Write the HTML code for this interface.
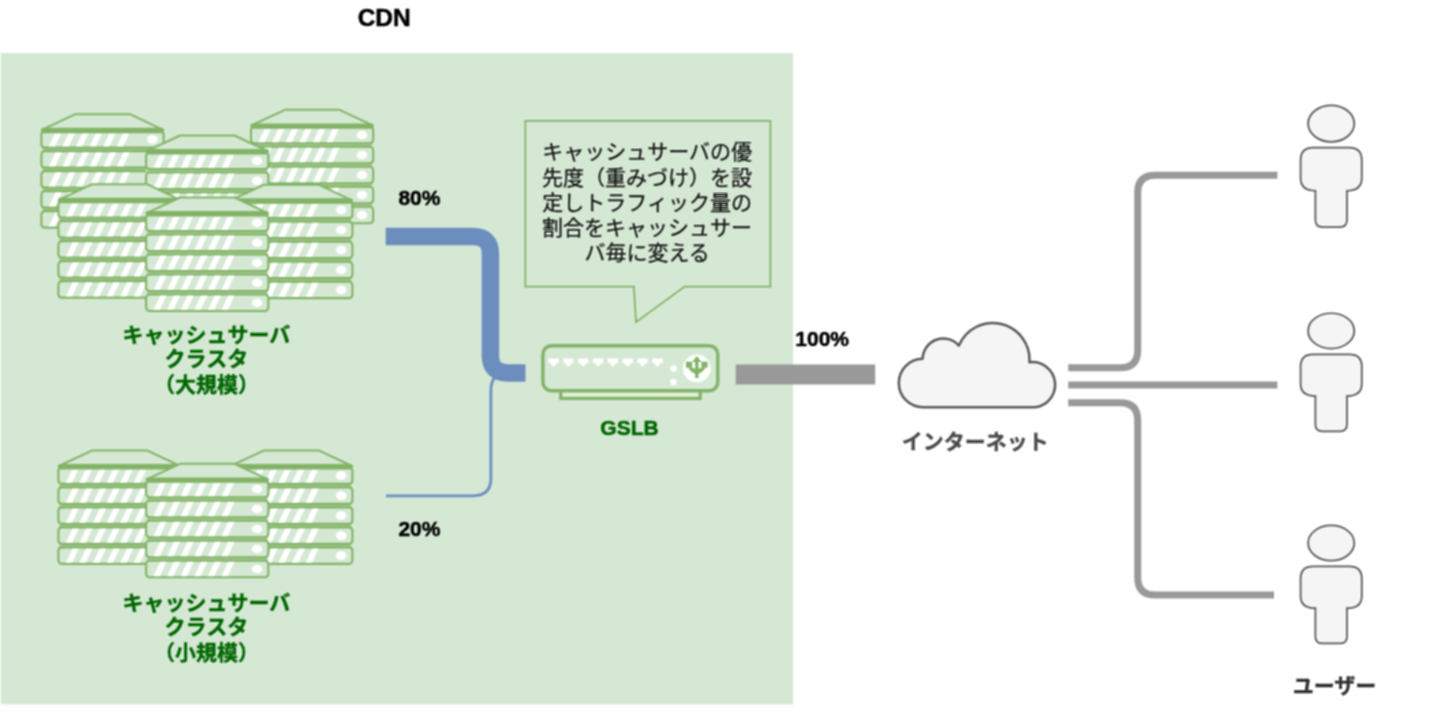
<!DOCTYPE html>
<html lang="ja">
<head>
<meta charset="utf-8">
<title>CDN GSLB</title>
<style>
html,body{margin:0;padding:0;background:#fff;overflow:hidden}
svg{display:block;width:1440px;height:726px;}
text{font-family:"Liberation Sans","Noto Sans CJK JP",sans-serif}
</style>
</head>
<body>
<svg width="1440" height="726" viewBox="0 0 1440 726">
<defs><filter id="soft" x="0" y="0" width="1440" height="726" filterUnits="userSpaceOnUse" color-interpolation-filters="sRGB"><feConvolveMatrix order="3" kernelMatrix="9 12 9 12 16 12 9 12 9" divisor="100" edgeMode="duplicate"/></filter></defs>
<g filter="url(#soft)">
<rect width="1440" height="726" fill="#fff"/>
<rect x="0.8" y="53" width="792.3" height="651.4" fill="#d5e8d4"/>
<g transform="translate(41.40,114.20)">
<path d="M34 0H88.5L122.2 15.8V112.5Q122.2 114.5 120.2 114.5H2Q0 114.5 0 112.5V15.8Z" fill="#d5e8d4"/>
<rect x="1.2" y="16" width="119.8" height="96" fill="#a3ca91"/>
<path d="M34 0H88.5L121.7 15.6H0.5Z" fill="#d5e8d4" stroke="#82b366" stroke-width="2" stroke-linejoin="round"/>
<rect x="0" y="16.95" width="122.2" height="16.5" rx="3.4" fill="#d5e8d4" stroke="#82b366" stroke-width="2.1"/>
<path d="M7.40 32.40L13.70 19.00H20.00L13.70 32.40ZM21.00 32.40L27.30 19.00H33.60L27.30 32.40ZM34.60 32.40L40.90 19.00H47.20L40.90 32.40ZM48.20 32.40L54.50 19.00H60.80L54.50 32.40ZM61.80 32.40L68.10 19.00H74.40L68.10 32.40ZM75.40 32.40L81.70 19.00H88.00L81.70 32.40Z" fill="#fff"/>
<ellipse cx="111" cy="25.20" rx="5.2" ry="4.3" fill="#fff"/>
<rect x="0" y="36.95" width="122.2" height="16.5" rx="3.4" fill="#d5e8d4" stroke="#82b366" stroke-width="2.1"/>
<path d="M7.40 52.40L14.17 38.00H20.47L13.70 52.40ZM21.00 52.40L27.77 38.00H34.07L27.30 52.40ZM34.60 52.40L41.37 38.00H47.67L40.90 52.40ZM48.20 52.40L54.97 38.00H61.27L54.50 52.40ZM61.80 52.40L68.57 38.00H74.87L68.10 52.40ZM75.40 52.40L82.17 38.00H88.47L81.70 52.40Z" fill="#fff"/>
<ellipse cx="111" cy="45.20" rx="5.2" ry="4.3" fill="#fff"/>
<rect x="0" y="56.95" width="122.2" height="16.5" rx="3.4" fill="#d5e8d4" stroke="#82b366" stroke-width="2.1"/>
<path d="M7.40 72.40L14.17 58.00H20.47L13.70 72.40ZM21.00 72.40L27.77 58.00H34.07L27.30 72.40ZM34.60 72.40L41.37 58.00H47.67L40.90 72.40ZM48.20 72.40L54.97 58.00H61.27L54.50 72.40ZM61.80 72.40L68.57 58.00H74.87L68.10 72.40ZM75.40 72.40L82.17 58.00H88.47L81.70 72.40Z" fill="#fff"/>
<ellipse cx="111" cy="65.20" rx="5.2" ry="4.3" fill="#fff"/>
<rect x="0" y="76.95" width="122.2" height="16.5" rx="3.4" fill="#d5e8d4" stroke="#82b366" stroke-width="2.1"/>
<path d="M7.40 92.40L14.17 78.00H20.47L13.70 92.40ZM21.00 92.40L27.77 78.00H34.07L27.30 92.40ZM34.60 92.40L41.37 78.00H47.67L40.90 92.40ZM48.20 92.40L54.97 78.00H61.27L54.50 92.40ZM61.80 92.40L68.57 78.00H74.87L68.10 92.40ZM75.40 92.40L82.17 78.00H88.47L81.70 92.40Z" fill="#fff"/>
<ellipse cx="111" cy="85.20" rx="5.2" ry="4.3" fill="#fff"/>
<rect x="0" y="96.95" width="122.2" height="16.5" rx="3.4" fill="#d5e8d4" stroke="#82b366" stroke-width="2.1"/>
<path d="M7.40 112.40L14.17 98.00H20.47L13.70 112.40ZM21.00 112.40L27.77 98.00H34.07L27.30 112.40ZM34.60 112.40L41.37 98.00H47.67L40.90 112.40ZM48.20 112.40L54.97 98.00H61.27L54.50 112.40ZM61.80 112.40L68.57 98.00H74.87L68.10 112.40ZM75.40 112.40L82.17 98.00H88.47L81.70 112.40Z" fill="#fff"/>
<ellipse cx="111" cy="105.20" rx="5.2" ry="4.3" fill="#fff"/>
<rect x="-0.4" y="13.6" width="123.0" height="5.4" rx="2.4" fill="#82b366"/>
</g>
<g transform="translate(251.00,109.80)">
<path d="M34 0H88.5L122.2 15.8V112.5Q122.2 114.5 120.2 114.5H2Q0 114.5 0 112.5V15.8Z" fill="#d5e8d4"/>
<rect x="1.2" y="16" width="119.8" height="96" fill="#a3ca91"/>
<path d="M34 0H88.5L121.7 15.6H0.5Z" fill="#d5e8d4" stroke="#82b366" stroke-width="2" stroke-linejoin="round"/>
<rect x="0" y="16.95" width="122.2" height="16.5" rx="3.4" fill="#d5e8d4" stroke="#82b366" stroke-width="2.1"/>
<path d="M7.40 32.40L13.70 19.00H20.00L13.70 32.40ZM21.00 32.40L27.30 19.00H33.60L27.30 32.40ZM34.60 32.40L40.90 19.00H47.20L40.90 32.40ZM48.20 32.40L54.50 19.00H60.80L54.50 32.40ZM61.80 32.40L68.10 19.00H74.40L68.10 32.40ZM75.40 32.40L81.70 19.00H88.00L81.70 32.40Z" fill="#fff"/>
<ellipse cx="111" cy="25.20" rx="5.2" ry="4.3" fill="#fff"/>
<rect x="0" y="36.95" width="122.2" height="16.5" rx="3.4" fill="#d5e8d4" stroke="#82b366" stroke-width="2.1"/>
<path d="M7.40 52.40L14.17 38.00H20.47L13.70 52.40ZM21.00 52.40L27.77 38.00H34.07L27.30 52.40ZM34.60 52.40L41.37 38.00H47.67L40.90 52.40ZM48.20 52.40L54.97 38.00H61.27L54.50 52.40ZM61.80 52.40L68.57 38.00H74.87L68.10 52.40ZM75.40 52.40L82.17 38.00H88.47L81.70 52.40Z" fill="#fff"/>
<ellipse cx="111" cy="45.20" rx="5.2" ry="4.3" fill="#fff"/>
<rect x="0" y="56.95" width="122.2" height="16.5" rx="3.4" fill="#d5e8d4" stroke="#82b366" stroke-width="2.1"/>
<path d="M7.40 72.40L14.17 58.00H20.47L13.70 72.40ZM21.00 72.40L27.77 58.00H34.07L27.30 72.40ZM34.60 72.40L41.37 58.00H47.67L40.90 72.40ZM48.20 72.40L54.97 58.00H61.27L54.50 72.40ZM61.80 72.40L68.57 58.00H74.87L68.10 72.40ZM75.40 72.40L82.17 58.00H88.47L81.70 72.40Z" fill="#fff"/>
<ellipse cx="111" cy="65.20" rx="5.2" ry="4.3" fill="#fff"/>
<rect x="0" y="76.95" width="122.2" height="16.5" rx="3.4" fill="#d5e8d4" stroke="#82b366" stroke-width="2.1"/>
<path d="M7.40 92.40L14.17 78.00H20.47L13.70 92.40ZM21.00 92.40L27.77 78.00H34.07L27.30 92.40ZM34.60 92.40L41.37 78.00H47.67L40.90 92.40ZM48.20 92.40L54.97 78.00H61.27L54.50 92.40ZM61.80 92.40L68.57 78.00H74.87L68.10 92.40ZM75.40 92.40L82.17 78.00H88.47L81.70 92.40Z" fill="#fff"/>
<ellipse cx="111" cy="85.20" rx="5.2" ry="4.3" fill="#fff"/>
<rect x="0" y="96.95" width="122.2" height="16.5" rx="3.4" fill="#d5e8d4" stroke="#82b366" stroke-width="2.1"/>
<path d="M7.40 112.40L14.17 98.00H20.47L13.70 112.40ZM21.00 112.40L27.77 98.00H34.07L27.30 112.40ZM34.60 112.40L41.37 98.00H47.67L40.90 112.40ZM48.20 112.40L54.97 98.00H61.27L54.50 112.40ZM61.80 112.40L68.57 98.00H74.87L68.10 112.40ZM75.40 112.40L82.17 98.00H88.47L81.70 112.40Z" fill="#fff"/>
<ellipse cx="111" cy="105.20" rx="5.2" ry="4.3" fill="#fff"/>
<rect x="-0.4" y="13.6" width="123.0" height="5.4" rx="2.4" fill="#82b366"/>
</g>
<g transform="translate(146.10,135.50)">
<path d="M34 0H88.5L122.2 15.8V112.5Q122.2 114.5 120.2 114.5H2Q0 114.5 0 112.5V15.8Z" fill="#d5e8d4"/>
<rect x="1.2" y="16" width="119.8" height="96" fill="#a3ca91"/>
<path d="M34 0H88.5L121.7 15.6H0.5Z" fill="#d5e8d4" stroke="#82b366" stroke-width="2" stroke-linejoin="round"/>
<rect x="0" y="16.95" width="122.2" height="16.5" rx="3.4" fill="#d5e8d4" stroke="#82b366" stroke-width="2.1"/>
<path d="M7.40 32.40L13.70 19.00H20.00L13.70 32.40ZM21.00 32.40L27.30 19.00H33.60L27.30 32.40ZM34.60 32.40L40.90 19.00H47.20L40.90 32.40ZM48.20 32.40L54.50 19.00H60.80L54.50 32.40ZM61.80 32.40L68.10 19.00H74.40L68.10 32.40ZM75.40 32.40L81.70 19.00H88.00L81.70 32.40Z" fill="#fff"/>
<ellipse cx="111" cy="25.20" rx="5.2" ry="4.3" fill="#fff"/>
<rect x="0" y="36.95" width="122.2" height="16.5" rx="3.4" fill="#d5e8d4" stroke="#82b366" stroke-width="2.1"/>
<path d="M7.40 52.40L14.17 38.00H20.47L13.70 52.40ZM21.00 52.40L27.77 38.00H34.07L27.30 52.40ZM34.60 52.40L41.37 38.00H47.67L40.90 52.40ZM48.20 52.40L54.97 38.00H61.27L54.50 52.40ZM61.80 52.40L68.57 38.00H74.87L68.10 52.40ZM75.40 52.40L82.17 38.00H88.47L81.70 52.40Z" fill="#fff"/>
<ellipse cx="111" cy="45.20" rx="5.2" ry="4.3" fill="#fff"/>
<rect x="0" y="56.95" width="122.2" height="16.5" rx="3.4" fill="#d5e8d4" stroke="#82b366" stroke-width="2.1"/>
<path d="M7.40 72.40L14.17 58.00H20.47L13.70 72.40ZM21.00 72.40L27.77 58.00H34.07L27.30 72.40ZM34.60 72.40L41.37 58.00H47.67L40.90 72.40ZM48.20 72.40L54.97 58.00H61.27L54.50 72.40ZM61.80 72.40L68.57 58.00H74.87L68.10 72.40ZM75.40 72.40L82.17 58.00H88.47L81.70 72.40Z" fill="#fff"/>
<ellipse cx="111" cy="65.20" rx="5.2" ry="4.3" fill="#fff"/>
<rect x="0" y="76.95" width="122.2" height="16.5" rx="3.4" fill="#d5e8d4" stroke="#82b366" stroke-width="2.1"/>
<path d="M7.40 92.40L14.17 78.00H20.47L13.70 92.40ZM21.00 92.40L27.77 78.00H34.07L27.30 92.40ZM34.60 92.40L41.37 78.00H47.67L40.90 92.40ZM48.20 92.40L54.97 78.00H61.27L54.50 92.40ZM61.80 92.40L68.57 78.00H74.87L68.10 92.40ZM75.40 92.40L82.17 78.00H88.47L81.70 92.40Z" fill="#fff"/>
<ellipse cx="111" cy="85.20" rx="5.2" ry="4.3" fill="#fff"/>
<rect x="0" y="96.95" width="122.2" height="16.5" rx="3.4" fill="#d5e8d4" stroke="#82b366" stroke-width="2.1"/>
<path d="M7.40 112.40L14.17 98.00H20.47L13.70 112.40ZM21.00 112.40L27.77 98.00H34.07L27.30 112.40ZM34.60 112.40L41.37 98.00H47.67L40.90 112.40ZM48.20 112.40L54.97 98.00H61.27L54.50 112.40ZM61.80 112.40L68.57 98.00H74.87L68.10 112.40ZM75.40 112.40L82.17 98.00H88.47L81.70 112.40Z" fill="#fff"/>
<ellipse cx="111" cy="105.20" rx="5.2" ry="4.3" fill="#fff"/>
<rect x="-0.4" y="13.6" width="123.0" height="5.4" rx="2.4" fill="#82b366"/>
</g>
<g transform="translate(58.40,184.20)">
<path d="M34 0H88.5L122.2 15.8V112.5Q122.2 114.5 120.2 114.5H2Q0 114.5 0 112.5V15.8Z" fill="#d5e8d4"/>
<rect x="1.2" y="16" width="119.8" height="96" fill="#a3ca91"/>
<path d="M34 0H88.5L121.7 15.6H0.5Z" fill="#d5e8d4" stroke="#82b366" stroke-width="2" stroke-linejoin="round"/>
<rect x="0" y="16.95" width="122.2" height="16.5" rx="3.4" fill="#d5e8d4" stroke="#82b366" stroke-width="2.1"/>
<path d="M7.40 32.40L13.70 19.00H20.00L13.70 32.40ZM21.00 32.40L27.30 19.00H33.60L27.30 32.40ZM34.60 32.40L40.90 19.00H47.20L40.90 32.40ZM48.20 32.40L54.50 19.00H60.80L54.50 32.40ZM61.80 32.40L68.10 19.00H74.40L68.10 32.40ZM75.40 32.40L81.70 19.00H88.00L81.70 32.40Z" fill="#fff"/>
<ellipse cx="111" cy="25.20" rx="5.2" ry="4.3" fill="#fff"/>
<rect x="0" y="36.95" width="122.2" height="16.5" rx="3.4" fill="#d5e8d4" stroke="#82b366" stroke-width="2.1"/>
<path d="M7.40 52.40L14.17 38.00H20.47L13.70 52.40ZM21.00 52.40L27.77 38.00H34.07L27.30 52.40ZM34.60 52.40L41.37 38.00H47.67L40.90 52.40ZM48.20 52.40L54.97 38.00H61.27L54.50 52.40ZM61.80 52.40L68.57 38.00H74.87L68.10 52.40ZM75.40 52.40L82.17 38.00H88.47L81.70 52.40Z" fill="#fff"/>
<ellipse cx="111" cy="45.20" rx="5.2" ry="4.3" fill="#fff"/>
<rect x="0" y="56.95" width="122.2" height="16.5" rx="3.4" fill="#d5e8d4" stroke="#82b366" stroke-width="2.1"/>
<path d="M7.40 72.40L14.17 58.00H20.47L13.70 72.40ZM21.00 72.40L27.77 58.00H34.07L27.30 72.40ZM34.60 72.40L41.37 58.00H47.67L40.90 72.40ZM48.20 72.40L54.97 58.00H61.27L54.50 72.40ZM61.80 72.40L68.57 58.00H74.87L68.10 72.40ZM75.40 72.40L82.17 58.00H88.47L81.70 72.40Z" fill="#fff"/>
<ellipse cx="111" cy="65.20" rx="5.2" ry="4.3" fill="#fff"/>
<rect x="0" y="76.95" width="122.2" height="16.5" rx="3.4" fill="#d5e8d4" stroke="#82b366" stroke-width="2.1"/>
<path d="M7.40 92.40L14.17 78.00H20.47L13.70 92.40ZM21.00 92.40L27.77 78.00H34.07L27.30 92.40ZM34.60 92.40L41.37 78.00H47.67L40.90 92.40ZM48.20 92.40L54.97 78.00H61.27L54.50 92.40ZM61.80 92.40L68.57 78.00H74.87L68.10 92.40ZM75.40 92.40L82.17 78.00H88.47L81.70 92.40Z" fill="#fff"/>
<ellipse cx="111" cy="85.20" rx="5.2" ry="4.3" fill="#fff"/>
<rect x="0" y="96.95" width="122.2" height="16.5" rx="3.4" fill="#d5e8d4" stroke="#82b366" stroke-width="2.1"/>
<path d="M7.40 112.40L14.17 98.00H20.47L13.70 112.40ZM21.00 112.40L27.77 98.00H34.07L27.30 112.40ZM34.60 112.40L41.37 98.00H47.67L40.90 112.40ZM48.20 112.40L54.97 98.00H61.27L54.50 112.40ZM61.80 112.40L68.57 98.00H74.87L68.10 112.40ZM75.40 112.40L82.17 98.00H88.47L81.70 112.40Z" fill="#fff"/>
<ellipse cx="111" cy="105.20" rx="5.2" ry="4.3" fill="#fff"/>
<rect x="-0.4" y="13.6" width="123.0" height="5.4" rx="2.4" fill="#82b366"/>
</g>
<g transform="translate(230.20,184.70)">
<path d="M34 0H88.5L122.2 15.8V112.5Q122.2 114.5 120.2 114.5H2Q0 114.5 0 112.5V15.8Z" fill="#d5e8d4"/>
<rect x="1.2" y="16" width="119.8" height="96" fill="#a3ca91"/>
<path d="M34 0H88.5L121.7 15.6H0.5Z" fill="#d5e8d4" stroke="#82b366" stroke-width="2" stroke-linejoin="round"/>
<rect x="0" y="16.95" width="122.2" height="16.5" rx="3.4" fill="#d5e8d4" stroke="#82b366" stroke-width="2.1"/>
<path d="M7.40 32.40L13.70 19.00H20.00L13.70 32.40ZM21.00 32.40L27.30 19.00H33.60L27.30 32.40ZM34.60 32.40L40.90 19.00H47.20L40.90 32.40ZM48.20 32.40L54.50 19.00H60.80L54.50 32.40ZM61.80 32.40L68.10 19.00H74.40L68.10 32.40ZM75.40 32.40L81.70 19.00H88.00L81.70 32.40Z" fill="#fff"/>
<ellipse cx="111" cy="25.20" rx="5.2" ry="4.3" fill="#fff"/>
<rect x="0" y="36.95" width="122.2" height="16.5" rx="3.4" fill="#d5e8d4" stroke="#82b366" stroke-width="2.1"/>
<path d="M7.40 52.40L14.17 38.00H20.47L13.70 52.40ZM21.00 52.40L27.77 38.00H34.07L27.30 52.40ZM34.60 52.40L41.37 38.00H47.67L40.90 52.40ZM48.20 52.40L54.97 38.00H61.27L54.50 52.40ZM61.80 52.40L68.57 38.00H74.87L68.10 52.40ZM75.40 52.40L82.17 38.00H88.47L81.70 52.40Z" fill="#fff"/>
<ellipse cx="111" cy="45.20" rx="5.2" ry="4.3" fill="#fff"/>
<rect x="0" y="56.95" width="122.2" height="16.5" rx="3.4" fill="#d5e8d4" stroke="#82b366" stroke-width="2.1"/>
<path d="M7.40 72.40L14.17 58.00H20.47L13.70 72.40ZM21.00 72.40L27.77 58.00H34.07L27.30 72.40ZM34.60 72.40L41.37 58.00H47.67L40.90 72.40ZM48.20 72.40L54.97 58.00H61.27L54.50 72.40ZM61.80 72.40L68.57 58.00H74.87L68.10 72.40ZM75.40 72.40L82.17 58.00H88.47L81.70 72.40Z" fill="#fff"/>
<ellipse cx="111" cy="65.20" rx="5.2" ry="4.3" fill="#fff"/>
<rect x="0" y="76.95" width="122.2" height="16.5" rx="3.4" fill="#d5e8d4" stroke="#82b366" stroke-width="2.1"/>
<path d="M7.40 92.40L14.17 78.00H20.47L13.70 92.40ZM21.00 92.40L27.77 78.00H34.07L27.30 92.40ZM34.60 92.40L41.37 78.00H47.67L40.90 92.40ZM48.20 92.40L54.97 78.00H61.27L54.50 92.40ZM61.80 92.40L68.57 78.00H74.87L68.10 92.40ZM75.40 92.40L82.17 78.00H88.47L81.70 92.40Z" fill="#fff"/>
<ellipse cx="111" cy="85.20" rx="5.2" ry="4.3" fill="#fff"/>
<rect x="0" y="96.95" width="122.2" height="16.5" rx="3.4" fill="#d5e8d4" stroke="#82b366" stroke-width="2.1"/>
<path d="M7.40 112.40L14.17 98.00H20.47L13.70 112.40ZM21.00 112.40L27.77 98.00H34.07L27.30 112.40ZM34.60 112.40L41.37 98.00H47.67L40.90 112.40ZM48.20 112.40L54.97 98.00H61.27L54.50 112.40ZM61.80 112.40L68.57 98.00H74.87L68.10 112.40ZM75.40 112.40L82.17 98.00H88.47L81.70 112.40Z" fill="#fff"/>
<ellipse cx="111" cy="105.20" rx="5.2" ry="4.3" fill="#fff"/>
<rect x="-0.4" y="13.6" width="123.0" height="5.4" rx="2.4" fill="#82b366"/>
</g>
<g transform="translate(146.10,197.50)">
<path d="M34 0H88.5L122.2 15.8V112.5Q122.2 114.5 120.2 114.5H2Q0 114.5 0 112.5V15.8Z" fill="#d5e8d4"/>
<rect x="1.2" y="16" width="119.8" height="96" fill="#a3ca91"/>
<path d="M34 0H88.5L121.7 15.6H0.5Z" fill="#d5e8d4" stroke="#82b366" stroke-width="2" stroke-linejoin="round"/>
<rect x="0" y="16.95" width="122.2" height="16.5" rx="3.4" fill="#d5e8d4" stroke="#82b366" stroke-width="2.1"/>
<path d="M7.40 32.40L13.70 19.00H20.00L13.70 32.40ZM21.00 32.40L27.30 19.00H33.60L27.30 32.40ZM34.60 32.40L40.90 19.00H47.20L40.90 32.40ZM48.20 32.40L54.50 19.00H60.80L54.50 32.40ZM61.80 32.40L68.10 19.00H74.40L68.10 32.40ZM75.40 32.40L81.70 19.00H88.00L81.70 32.40Z" fill="#fff"/>
<ellipse cx="111" cy="25.20" rx="5.2" ry="4.3" fill="#fff"/>
<rect x="0" y="36.95" width="122.2" height="16.5" rx="3.4" fill="#d5e8d4" stroke="#82b366" stroke-width="2.1"/>
<path d="M7.40 52.40L14.17 38.00H20.47L13.70 52.40ZM21.00 52.40L27.77 38.00H34.07L27.30 52.40ZM34.60 52.40L41.37 38.00H47.67L40.90 52.40ZM48.20 52.40L54.97 38.00H61.27L54.50 52.40ZM61.80 52.40L68.57 38.00H74.87L68.10 52.40ZM75.40 52.40L82.17 38.00H88.47L81.70 52.40Z" fill="#fff"/>
<ellipse cx="111" cy="45.20" rx="5.2" ry="4.3" fill="#fff"/>
<rect x="0" y="56.95" width="122.2" height="16.5" rx="3.4" fill="#d5e8d4" stroke="#82b366" stroke-width="2.1"/>
<path d="M7.40 72.40L14.17 58.00H20.47L13.70 72.40ZM21.00 72.40L27.77 58.00H34.07L27.30 72.40ZM34.60 72.40L41.37 58.00H47.67L40.90 72.40ZM48.20 72.40L54.97 58.00H61.27L54.50 72.40ZM61.80 72.40L68.57 58.00H74.87L68.10 72.40ZM75.40 72.40L82.17 58.00H88.47L81.70 72.40Z" fill="#fff"/>
<ellipse cx="111" cy="65.20" rx="5.2" ry="4.3" fill="#fff"/>
<rect x="0" y="76.95" width="122.2" height="16.5" rx="3.4" fill="#d5e8d4" stroke="#82b366" stroke-width="2.1"/>
<path d="M7.40 92.40L14.17 78.00H20.47L13.70 92.40ZM21.00 92.40L27.77 78.00H34.07L27.30 92.40ZM34.60 92.40L41.37 78.00H47.67L40.90 92.40ZM48.20 92.40L54.97 78.00H61.27L54.50 92.40ZM61.80 92.40L68.57 78.00H74.87L68.10 92.40ZM75.40 92.40L82.17 78.00H88.47L81.70 92.40Z" fill="#fff"/>
<ellipse cx="111" cy="85.20" rx="5.2" ry="4.3" fill="#fff"/>
<rect x="0" y="96.95" width="122.2" height="16.5" rx="3.4" fill="#d5e8d4" stroke="#82b366" stroke-width="2.1"/>
<path d="M7.40 112.40L14.17 98.00H20.47L13.70 112.40ZM21.00 112.40L27.77 98.00H34.07L27.30 112.40ZM34.60 112.40L41.37 98.00H47.67L40.90 112.40ZM48.20 112.40L54.97 98.00H61.27L54.50 112.40ZM61.80 112.40L68.57 98.00H74.87L68.10 112.40ZM75.40 112.40L82.17 98.00H88.47L81.70 112.40Z" fill="#fff"/>
<ellipse cx="111" cy="105.20" rx="5.2" ry="4.3" fill="#fff"/>
<rect x="-0.4" y="13.6" width="123.0" height="5.4" rx="2.4" fill="#82b366"/>
</g>
<g transform="translate(58.40,450.40)">
<path d="M34 0H88.5L122.2 15.8V112.5Q122.2 114.5 120.2 114.5H2Q0 114.5 0 112.5V15.8Z" fill="#d5e8d4"/>
<rect x="1.2" y="16" width="119.8" height="96" fill="#a3ca91"/>
<path d="M34 0H88.5L121.7 15.6H0.5Z" fill="#d5e8d4" stroke="#82b366" stroke-width="2" stroke-linejoin="round"/>
<rect x="0" y="16.95" width="122.2" height="16.5" rx="3.4" fill="#d5e8d4" stroke="#82b366" stroke-width="2.1"/>
<path d="M7.40 32.40L13.70 19.00H20.00L13.70 32.40ZM21.00 32.40L27.30 19.00H33.60L27.30 32.40ZM34.60 32.40L40.90 19.00H47.20L40.90 32.40ZM48.20 32.40L54.50 19.00H60.80L54.50 32.40ZM61.80 32.40L68.10 19.00H74.40L68.10 32.40ZM75.40 32.40L81.70 19.00H88.00L81.70 32.40Z" fill="#fff"/>
<ellipse cx="111" cy="25.20" rx="5.2" ry="4.3" fill="#fff"/>
<rect x="0" y="36.95" width="122.2" height="16.5" rx="3.4" fill="#d5e8d4" stroke="#82b366" stroke-width="2.1"/>
<path d="M7.40 52.40L14.17 38.00H20.47L13.70 52.40ZM21.00 52.40L27.77 38.00H34.07L27.30 52.40ZM34.60 52.40L41.37 38.00H47.67L40.90 52.40ZM48.20 52.40L54.97 38.00H61.27L54.50 52.40ZM61.80 52.40L68.57 38.00H74.87L68.10 52.40ZM75.40 52.40L82.17 38.00H88.47L81.70 52.40Z" fill="#fff"/>
<ellipse cx="111" cy="45.20" rx="5.2" ry="4.3" fill="#fff"/>
<rect x="0" y="56.95" width="122.2" height="16.5" rx="3.4" fill="#d5e8d4" stroke="#82b366" stroke-width="2.1"/>
<path d="M7.40 72.40L14.17 58.00H20.47L13.70 72.40ZM21.00 72.40L27.77 58.00H34.07L27.30 72.40ZM34.60 72.40L41.37 58.00H47.67L40.90 72.40ZM48.20 72.40L54.97 58.00H61.27L54.50 72.40ZM61.80 72.40L68.57 58.00H74.87L68.10 72.40ZM75.40 72.40L82.17 58.00H88.47L81.70 72.40Z" fill="#fff"/>
<ellipse cx="111" cy="65.20" rx="5.2" ry="4.3" fill="#fff"/>
<rect x="0" y="76.95" width="122.2" height="16.5" rx="3.4" fill="#d5e8d4" stroke="#82b366" stroke-width="2.1"/>
<path d="M7.40 92.40L14.17 78.00H20.47L13.70 92.40ZM21.00 92.40L27.77 78.00H34.07L27.30 92.40ZM34.60 92.40L41.37 78.00H47.67L40.90 92.40ZM48.20 92.40L54.97 78.00H61.27L54.50 92.40ZM61.80 92.40L68.57 78.00H74.87L68.10 92.40ZM75.40 92.40L82.17 78.00H88.47L81.70 92.40Z" fill="#fff"/>
<ellipse cx="111" cy="85.20" rx="5.2" ry="4.3" fill="#fff"/>
<rect x="0" y="96.95" width="122.2" height="16.5" rx="3.4" fill="#d5e8d4" stroke="#82b366" stroke-width="2.1"/>
<path d="M7.40 112.40L14.17 98.00H20.47L13.70 112.40ZM21.00 112.40L27.77 98.00H34.07L27.30 112.40ZM34.60 112.40L41.37 98.00H47.67L40.90 112.40ZM48.20 112.40L54.97 98.00H61.27L54.50 112.40ZM61.80 112.40L68.57 98.00H74.87L68.10 112.40ZM75.40 112.40L82.17 98.00H88.47L81.70 112.40Z" fill="#fff"/>
<ellipse cx="111" cy="105.20" rx="5.2" ry="4.3" fill="#fff"/>
<rect x="-0.4" y="13.6" width="123.0" height="5.4" rx="2.4" fill="#82b366"/>
</g>
<g transform="translate(230.20,450.40)">
<path d="M34 0H88.5L122.2 15.8V112.5Q122.2 114.5 120.2 114.5H2Q0 114.5 0 112.5V15.8Z" fill="#d5e8d4"/>
<rect x="1.2" y="16" width="119.8" height="96" fill="#a3ca91"/>
<path d="M34 0H88.5L121.7 15.6H0.5Z" fill="#d5e8d4" stroke="#82b366" stroke-width="2" stroke-linejoin="round"/>
<rect x="0" y="16.95" width="122.2" height="16.5" rx="3.4" fill="#d5e8d4" stroke="#82b366" stroke-width="2.1"/>
<path d="M7.40 32.40L13.70 19.00H20.00L13.70 32.40ZM21.00 32.40L27.30 19.00H33.60L27.30 32.40ZM34.60 32.40L40.90 19.00H47.20L40.90 32.40ZM48.20 32.40L54.50 19.00H60.80L54.50 32.40ZM61.80 32.40L68.10 19.00H74.40L68.10 32.40ZM75.40 32.40L81.70 19.00H88.00L81.70 32.40Z" fill="#fff"/>
<ellipse cx="111" cy="25.20" rx="5.2" ry="4.3" fill="#fff"/>
<rect x="0" y="36.95" width="122.2" height="16.5" rx="3.4" fill="#d5e8d4" stroke="#82b366" stroke-width="2.1"/>
<path d="M7.40 52.40L14.17 38.00H20.47L13.70 52.40ZM21.00 52.40L27.77 38.00H34.07L27.30 52.40ZM34.60 52.40L41.37 38.00H47.67L40.90 52.40ZM48.20 52.40L54.97 38.00H61.27L54.50 52.40ZM61.80 52.40L68.57 38.00H74.87L68.10 52.40ZM75.40 52.40L82.17 38.00H88.47L81.70 52.40Z" fill="#fff"/>
<ellipse cx="111" cy="45.20" rx="5.2" ry="4.3" fill="#fff"/>
<rect x="0" y="56.95" width="122.2" height="16.5" rx="3.4" fill="#d5e8d4" stroke="#82b366" stroke-width="2.1"/>
<path d="M7.40 72.40L14.17 58.00H20.47L13.70 72.40ZM21.00 72.40L27.77 58.00H34.07L27.30 72.40ZM34.60 72.40L41.37 58.00H47.67L40.90 72.40ZM48.20 72.40L54.97 58.00H61.27L54.50 72.40ZM61.80 72.40L68.57 58.00H74.87L68.10 72.40ZM75.40 72.40L82.17 58.00H88.47L81.70 72.40Z" fill="#fff"/>
<ellipse cx="111" cy="65.20" rx="5.2" ry="4.3" fill="#fff"/>
<rect x="0" y="76.95" width="122.2" height="16.5" rx="3.4" fill="#d5e8d4" stroke="#82b366" stroke-width="2.1"/>
<path d="M7.40 92.40L14.17 78.00H20.47L13.70 92.40ZM21.00 92.40L27.77 78.00H34.07L27.30 92.40ZM34.60 92.40L41.37 78.00H47.67L40.90 92.40ZM48.20 92.40L54.97 78.00H61.27L54.50 92.40ZM61.80 92.40L68.57 78.00H74.87L68.10 92.40ZM75.40 92.40L82.17 78.00H88.47L81.70 92.40Z" fill="#fff"/>
<ellipse cx="111" cy="85.20" rx="5.2" ry="4.3" fill="#fff"/>
<rect x="0" y="96.95" width="122.2" height="16.5" rx="3.4" fill="#d5e8d4" stroke="#82b366" stroke-width="2.1"/>
<path d="M7.40 112.40L14.17 98.00H20.47L13.70 112.40ZM21.00 112.40L27.77 98.00H34.07L27.30 112.40ZM34.60 112.40L41.37 98.00H47.67L40.90 112.40ZM48.20 112.40L54.97 98.00H61.27L54.50 112.40ZM61.80 112.40L68.57 98.00H74.87L68.10 112.40ZM75.40 112.40L82.17 98.00H88.47L81.70 112.40Z" fill="#fff"/>
<ellipse cx="111" cy="105.20" rx="5.2" ry="4.3" fill="#fff"/>
<rect x="-0.4" y="13.6" width="123.0" height="5.4" rx="2.4" fill="#82b366"/>
</g>
<g transform="translate(146.10,463.80)">
<path d="M34 0H88.5L122.2 15.8V112.5Q122.2 114.5 120.2 114.5H2Q0 114.5 0 112.5V15.8Z" fill="#d5e8d4"/>
<rect x="1.2" y="16" width="119.8" height="96" fill="#a3ca91"/>
<path d="M34 0H88.5L121.7 15.6H0.5Z" fill="#d5e8d4" stroke="#82b366" stroke-width="2" stroke-linejoin="round"/>
<rect x="0" y="16.95" width="122.2" height="16.5" rx="3.4" fill="#d5e8d4" stroke="#82b366" stroke-width="2.1"/>
<path d="M7.40 32.40L13.70 19.00H20.00L13.70 32.40ZM21.00 32.40L27.30 19.00H33.60L27.30 32.40ZM34.60 32.40L40.90 19.00H47.20L40.90 32.40ZM48.20 32.40L54.50 19.00H60.80L54.50 32.40ZM61.80 32.40L68.10 19.00H74.40L68.10 32.40ZM75.40 32.40L81.70 19.00H88.00L81.70 32.40Z" fill="#fff"/>
<ellipse cx="111" cy="25.20" rx="5.2" ry="4.3" fill="#fff"/>
<rect x="0" y="36.95" width="122.2" height="16.5" rx="3.4" fill="#d5e8d4" stroke="#82b366" stroke-width="2.1"/>
<path d="M7.40 52.40L14.17 38.00H20.47L13.70 52.40ZM21.00 52.40L27.77 38.00H34.07L27.30 52.40ZM34.60 52.40L41.37 38.00H47.67L40.90 52.40ZM48.20 52.40L54.97 38.00H61.27L54.50 52.40ZM61.80 52.40L68.57 38.00H74.87L68.10 52.40ZM75.40 52.40L82.17 38.00H88.47L81.70 52.40Z" fill="#fff"/>
<ellipse cx="111" cy="45.20" rx="5.2" ry="4.3" fill="#fff"/>
<rect x="0" y="56.95" width="122.2" height="16.5" rx="3.4" fill="#d5e8d4" stroke="#82b366" stroke-width="2.1"/>
<path d="M7.40 72.40L14.17 58.00H20.47L13.70 72.40ZM21.00 72.40L27.77 58.00H34.07L27.30 72.40ZM34.60 72.40L41.37 58.00H47.67L40.90 72.40ZM48.20 72.40L54.97 58.00H61.27L54.50 72.40ZM61.80 72.40L68.57 58.00H74.87L68.10 72.40ZM75.40 72.40L82.17 58.00H88.47L81.70 72.40Z" fill="#fff"/>
<ellipse cx="111" cy="65.20" rx="5.2" ry="4.3" fill="#fff"/>
<rect x="0" y="76.95" width="122.2" height="16.5" rx="3.4" fill="#d5e8d4" stroke="#82b366" stroke-width="2.1"/>
<path d="M7.40 92.40L14.17 78.00H20.47L13.70 92.40ZM21.00 92.40L27.77 78.00H34.07L27.30 92.40ZM34.60 92.40L41.37 78.00H47.67L40.90 92.40ZM48.20 92.40L54.97 78.00H61.27L54.50 92.40ZM61.80 92.40L68.57 78.00H74.87L68.10 92.40ZM75.40 92.40L82.17 78.00H88.47L81.70 92.40Z" fill="#fff"/>
<ellipse cx="111" cy="85.20" rx="5.2" ry="4.3" fill="#fff"/>
<rect x="0" y="96.95" width="122.2" height="16.5" rx="3.4" fill="#d5e8d4" stroke="#82b366" stroke-width="2.1"/>
<path d="M7.40 112.40L14.17 98.00H20.47L13.70 112.40ZM21.00 112.40L27.77 98.00H34.07L27.30 112.40ZM34.60 112.40L41.37 98.00H47.67L40.90 112.40ZM48.20 112.40L54.97 98.00H61.27L54.50 112.40ZM61.80 112.40L68.57 98.00H74.87L68.10 112.40ZM75.40 112.40L82.17 98.00H88.47L81.70 112.40Z" fill="#fff"/>
<ellipse cx="111" cy="105.20" rx="5.2" ry="4.3" fill="#fff"/>
<rect x="-0.4" y="13.6" width="123.0" height="5.4" rx="2.4" fill="#82b366"/>
</g>
<path d="M386 495.8H473.4Q490.9 495.8 490.9 478.3V390.4Q490.9 372.9 508.4 372.9H525" fill="none" stroke="#6c8ebf" stroke-width="2.8"/>
<path d="M385.7 236.5H473Q490.4 236.5 490.4 254V355.4Q490.4 372.9 507.9 372.9H525.5" fill="none" stroke="#6c8ebf" stroke-width="17.5"/>
<path d="M735.7 374.6H875.2" fill="none" stroke="#999999" stroke-width="20"/>
<g fill="none" stroke="#999999" stroke-width="7"><path d="M1068.2 367.7H1120.2Q1137.7 367.7 1137.7 350.2V192.7Q1137.7 175.2 1155.2 175.2H1277.4"/><path d="M1068.2 385.1H1277.4"/><path d="M1068.2 402.8H1120.2Q1137.7 402.8 1137.7 420.3V577.6Q1137.7 595.1 1155.2 595.1H1274"/></g>
<path d="M525.3 120.9H770.4V286.6H684.6L636 322.1L633.9 286.6H525.3Z" fill="#d5e8d4" stroke="#82b366" stroke-width="1.75" stroke-linejoin="miter"/>
<rect x="560.8" y="388" width="139.4" height="10.4" fill="#e0eede" stroke="#82b366" stroke-width="3.2"/>
<rect x="542.9" y="345.8" width="174.9" height="45" rx="8.5" fill="#d5e8d4" stroke="#82b366" stroke-width="3.4"/>
<path d="M548.40 358.5h10.3v4.4h-2.4v1.8h-1.4v1.6h-2.7v-1.6h-1.4v-1.8h-2.4zM563.25 358.5h10.3v4.4h-2.4v1.8h-1.4v1.6h-2.7v-1.6h-1.4v-1.8h-2.4zM578.10 358.5h10.3v4.4h-2.4v1.8h-1.4v1.6h-2.7v-1.6h-1.4v-1.8h-2.4zM592.95 358.5h10.3v4.4h-2.4v1.8h-1.4v1.6h-2.7v-1.6h-1.4v-1.8h-2.4zM607.80 358.5h10.3v4.4h-2.4v1.8h-1.4v1.6h-2.7v-1.6h-1.4v-1.8h-2.4zM622.65 358.5h10.3v4.4h-2.4v1.8h-1.4v1.6h-2.7v-1.6h-1.4v-1.8h-2.4zM637.50 358.5h10.3v4.4h-2.4v1.8h-1.4v1.6h-2.7v-1.6h-1.4v-1.8h-2.4zM652.35 358.5h10.3v4.4h-2.4v1.8h-1.4v1.6h-2.7v-1.6h-1.4v-1.8h-2.4z" fill="#fff"/>
<circle cx="673.6" cy="368.5" r="3.3" fill="#fff"/><circle cx="673.6" cy="382.1" r="3.3" fill="#fff"/>
<circle cx="696.8" cy="368.4" r="13.9" fill="#fff"/>
<g fill="#82b366"><path d="M696.8 356.1L701.5 361.9H698.5V377.9H695.1V361.9H692.1Z"/><rect x="686" y="361.7" width="6.2" height="6"/><rect x="701.4" y="361.7" width="6.2" height="6"/><path d="M688 367.5C689.5 370.5 692.5 372.8 695.1 373.8H698.5C701.1 372.8 704.1 370.5 705.6 367.5H701.4C700.8 368.2 699.8 368.6 698.5 368.8H695.1C693.8 368.6 692.8 368.2 692.2 367.5Z"/></g>
<path d="M923.4 407.2A24.2 24.2 0 0 1 922.6 358.8A20.7 20.7 0 0 1 958.9 345.6A36.7 36.7 0 0 1 1029.4 362.3A22.6 22.6 0 0 1 1035.5 407.2Z" fill="#f5f5f5" stroke="#5a5a5a" stroke-width="2.5" stroke-linejoin="round"/>
<g transform="translate(1331.20,104.50) scale(1,1.0000)" fill="#f5f5f5" stroke="#585858" stroke-width="1.75">
<ellipse cx="0" cy="19.1" rx="23.1" ry="18.2"/>
<path d="M-18 43.2H18Q30.6 43.2 30.6 55.8V73.6Q30.6 86.3 15.8 86.3V115.6Q15.8 122.6 8.8 122.6H-8.8Q-15.8 122.6 -15.8 115.6V86.3Q-30.6 86.3 -30.6 73.6V55.8Q-30.6 43.2 -18 43.2Z"/>
</g>
<g transform="translate(1331.20,312.40) scale(1,0.9701)" fill="#f5f5f5" stroke="#585858" stroke-width="1.75">
<ellipse cx="0" cy="19.1" rx="23.1" ry="18.2"/>
<path d="M-18 43.2H18Q30.6 43.2 30.6 55.8V73.6Q30.6 86.3 15.8 86.3V115.6Q15.8 122.6 8.8 122.6H-8.8Q-15.8 122.6 -15.8 115.6V86.3Q-30.6 86.3 -30.6 73.6V55.8Q-30.6 43.2 -18 43.2Z"/>
</g>
<g transform="translate(1331.20,524.50) scale(1,0.9701)" fill="#f5f5f5" stroke="#585858" stroke-width="1.75">
<ellipse cx="0" cy="19.1" rx="23.1" ry="18.2"/>
<path d="M-18 43.2H18Q30.6 43.2 30.6 55.8V73.6Q30.6 86.3 15.8 86.3V115.6Q15.8 122.6 8.8 122.6H-8.8Q-15.8 122.6 -15.8 115.6V86.3Q-30.6 86.3 -30.6 73.6V55.8Q-30.6 43.2 -18 43.2Z"/>
</g>
<text x="384.2" y="25.80" font-size="24.5" font-weight="bold" fill="#000" stroke="#000" stroke-width="0.5" stroke-linejoin="round" text-anchor="middle">CDN</text>
<text x="419.4" y="204.50" font-size="21" font-weight="bold" fill="#000" stroke="#000" stroke-width="0.5" stroke-linejoin="round" text-anchor="middle">80%</text>
<text x="419.4" y="536.00" font-size="21" font-weight="bold" fill="#000" stroke="#000" stroke-width="0.5" stroke-linejoin="round" text-anchor="middle">20%</text>
<text x="822.2" y="346.00" font-size="21" font-weight="bold" fill="#000" stroke="#000" stroke-width="0.5" stroke-linejoin="round" text-anchor="middle">100%</text>
<text x="629.5" y="435.30" font-size="21" font-weight="bold" fill="#006600" stroke="#006600" stroke-width="0.5" stroke-linejoin="round" text-anchor="middle">GSLB</text>
<text x="206.4" y="342.00" font-size="21" font-weight="bold" fill="#006600" stroke="#006600" stroke-width="0.35" stroke-linejoin="round" text-anchor="middle">キャッシュサーバ</text>
<text x="206.4" y="366.20" font-size="21" font-weight="bold" fill="#006600" stroke="#006600" stroke-width="0.35" stroke-linejoin="round" text-anchor="middle">クラスタ</text>
<text x="206.4" y="392.40" font-size="21" font-weight="bold" fill="#006600" stroke="#006600" stroke-width="0.35" stroke-linejoin="round" text-anchor="middle">（大規模）</text>
<text x="206.4" y="609.60" font-size="21" font-weight="bold" fill="#006600" stroke="#006600" stroke-width="0.35" stroke-linejoin="round" text-anchor="middle">キャッシュサーバ</text>
<text x="206.4" y="633.80" font-size="21" font-weight="bold" fill="#006600" stroke="#006600" stroke-width="0.35" stroke-linejoin="round" text-anchor="middle">クラスタ</text>
<text x="206.4" y="660.00" font-size="21" font-weight="bold" fill="#006600" stroke="#006600" stroke-width="0.35" stroke-linejoin="round" text-anchor="middle">（小規模）</text>
<text x="647.1" y="159.30" font-size="21" font-weight="normal" fill="#111111" stroke="#111111" stroke-width="0.25" stroke-linejoin="round" text-anchor="middle">キャッシュサーバの優</text>
<text x="647.1" y="184.50" font-size="21" font-weight="normal" fill="#111111" stroke="#111111" stroke-width="0.25" stroke-linejoin="round" text-anchor="middle">先度（重みづけ）を設</text>
<text x="647.1" y="209.70" font-size="21" font-weight="normal" fill="#111111" stroke="#111111" stroke-width="0.25" stroke-linejoin="round" text-anchor="middle">定しトラフィック量の</text>
<text x="647.1" y="234.90" font-size="21" font-weight="normal" fill="#111111" stroke="#111111" stroke-width="0.25" stroke-linejoin="round" text-anchor="middle">割合をキャッシュサー</text>
<text x="647.1" y="260.10" font-size="21" font-weight="normal" fill="#111111" stroke="#111111" stroke-width="0.25" stroke-linejoin="round" text-anchor="middle">バ毎に変える</text>
<text x="975.3" y="449.30" font-size="21" font-weight="bold" fill="#4a4a4a" stroke="#4a4a4a" stroke-width="0.35" stroke-linejoin="round" text-anchor="middle">インターネット</text>
<text x="1334.5" y="693.40" font-size="21" font-weight="bold" fill="#303030" stroke="#303030" stroke-width="0.35" stroke-linejoin="round" text-anchor="middle">ユーザー</text>
</g>
</svg>
</body>
</html>
